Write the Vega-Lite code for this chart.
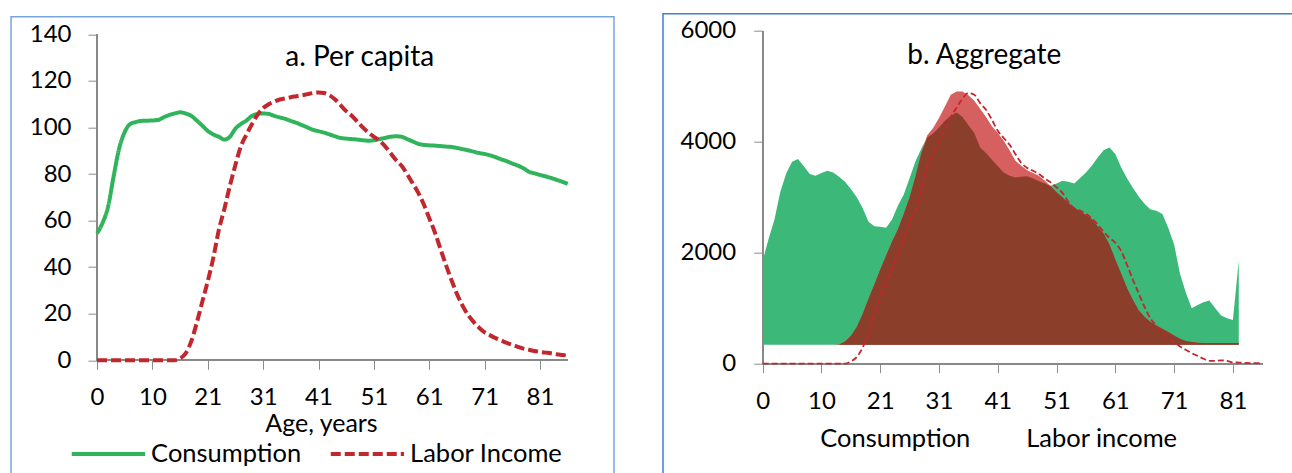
{
  "$schema": "https://vega.github.io/schema/vega-lite/v6.json",
  "padding": {"left": 10, "top": 12.7, "right": 0, "bottom": 0},
  "background": "white",
  "spacing": 49,
  "bounds": "flush",
  "center": true,
  "config": {
    "font": "Lato",
    "axis": {"labelFont": "Lato", "labelFontSize": 24, "labelColor": "#000000", "tickColor": "#8c8c8c", "tickSize": 9, "tickWidth": 1, "grid": false, "domain": false, "labelFlush": false, "labelOverlap": false, "titleFont": "Lato"},
    "legend": {"labelFont": "Lato", "labelColor": "#000000", "padding": 0},
    "title": {"font": "Lato", "fontSize": 28, "fontWeight": "normal", "color": "#000000"}
  },
  "resolve": {"scale": {"color": "independent", "x": "independent", "y": "independent", "strokeDash": "independent"}, "legend": {"color": "independent"}},
  "datasets": {
    "percapita": [
      {"i":0,"Consumption":54.5,"Labor Income":0},{"i":1,"Consumption":59,"Labor Income":0},{"i":2,"Consumption":66,"Labor Income":0},{"i":3,"Consumption":79,"Labor Income":0},{"i":4,"Consumption":91,"Labor Income":0},{"i":5,"Consumption":98,"Labor Income":0},{"i":6,"Consumption":101.5,"Labor Income":0},{"i":7,"Consumption":102.3,"Labor Income":0},{"i":8,"Consumption":102.8,"Labor Income":0},{"i":9,"Consumption":102.9,"Labor Income":0},
      {"i":10,"Consumption":103,"Labor Income":0},{"i":11,"Consumption":103.2,"Labor Income":0},{"i":12,"Consumption":104.3,"Labor Income":0},{"i":13,"Consumption":105.3,"Labor Income":0},{"i":14,"Consumption":106,"Labor Income":0},{"i":15,"Consumption":106.5,"Labor Income":0.8},{"i":16,"Consumption":106,"Labor Income":3},{"i":17,"Consumption":105,"Labor Income":8},{"i":18,"Consumption":103,"Labor Income":16},{"i":19,"Consumption":100.8,"Labor Income":25},
      {"i":20,"Consumption":98.5,"Labor Income":34},{"i":21,"Consumption":97,"Labor Income":44},{"i":22,"Consumption":96,"Labor Income":56},{"i":23,"Consumption":94.8,"Labor Income":65},{"i":24,"Consumption":96,"Labor Income":75},{"i":25,"Consumption":99.5,"Labor Income":84},{"i":26,"Consumption":101.5,"Labor Income":92},{"i":27,"Consumption":103,"Labor Income":97},{"i":28,"Consumption":105,"Labor Income":101.5},{"i":29,"Consumption":105.8,"Labor Income":105.5},
      {"i":30,"Consumption":106,"Labor Income":108.3},{"i":31,"Consumption":105.8,"Labor Income":110},{"i":32,"Consumption":105,"Labor Income":111.1},{"i":33,"Consumption":104.3,"Labor Income":112},{"i":34,"Consumption":103.7,"Labor Income":112.5},{"i":35,"Consumption":102.8,"Labor Income":113},{"i":36,"Consumption":102,"Labor Income":113.4},{"i":37,"Consumption":101,"Labor Income":113.8},{"i":38,"Consumption":100,"Labor Income":114.3},{"i":39,"Consumption":99,"Labor Income":114.8},
      {"i":40,"Consumption":98.4,"Labor Income":115},{"i":41,"Consumption":97.8,"Labor Income":114.8},{"i":42,"Consumption":97,"Labor Income":113.8},{"i":43,"Consumption":96.2,"Labor Income":112},{"i":44,"Consumption":95.5,"Labor Income":109.5},{"i":45,"Consumption":95.2,"Labor Income":107},{"i":46,"Consumption":95,"Labor Income":105},{"i":47,"Consumption":94.8,"Labor Income":102.5},{"i":48,"Consumption":94.5,"Labor Income":100},{"i":49,"Consumption":94.3,"Labor Income":97.8},
      {"i":50,"Consumption":94.5,"Labor Income":96},{"i":51,"Consumption":95,"Labor Income":94.3},{"i":52,"Consumption":95.5,"Labor Income":92},{"i":53,"Consumption":96,"Labor Income":89},{"i":54,"Consumption":96.2,"Labor Income":86},{"i":55,"Consumption":96,"Labor Income":83.5},{"i":56,"Consumption":95,"Labor Income":80},{"i":57,"Consumption":94,"Labor Income":76},{"i":58,"Consumption":93,"Labor Income":72},{"i":59,"Consumption":92.5,"Labor Income":67},
      {"i":60,"Consumption":92.3,"Labor Income":61},{"i":61,"Consumption":92.2,"Labor Income":55},{"i":62,"Consumption":92,"Labor Income":48},{"i":63,"Consumption":91.8,"Labor Income":41},{"i":64,"Consumption":91.6,"Labor Income":34.5},{"i":65,"Consumption":91.2,"Labor Income":28.5},{"i":66,"Consumption":90.7,"Labor Income":23.5},{"i":67,"Consumption":90.2,"Labor Income":19.5},{"i":68,"Consumption":89.6,"Labor Income":16.5},{"i":69,"Consumption":89,"Labor Income":14},
      {"i":70,"Consumption":88.6,"Labor Income":12},{"i":71,"Consumption":88,"Labor Income":10.7},{"i":72,"Consumption":87.2,"Labor Income":9.5},{"i":73,"Consumption":86.3,"Labor Income":8.5},{"i":74,"Consumption":85.5,"Labor Income":7.5},{"i":75,"Consumption":84.5,"Labor Income":6.6},{"i":76,"Consumption":83.6,"Labor Income":5.8},{"i":77,"Consumption":82.5,"Labor Income":5},{"i":78,"Consumption":81,"Labor Income":4.5},{"i":79,"Consumption":80.3,"Labor Income":4},
      {"i":80,"Consumption":79.6,"Labor Income":3.6},{"i":81,"Consumption":79,"Labor Income":3.3},{"i":82,"Consumption":78.3,"Labor Income":3},{"i":83,"Consumption":77.5,"Labor Income":2.6},{"i":84,"Consumption":76.7,"Labor Income":2.3},{"i":85,"Consumption":75.8,"Labor Income":2}
    ],
    "aggregate": [
      {"i":0,"c":1860,"ll":0},{"i":1,"c":2250,"ll":0},{"i":2,"c":2600,"ll":0},{"i":3,"c":3100,"ll":0},{"i":4,"c":3430,"ll":0},{"i":5,"c":3640,"ll":0},{"i":6,"c":3690,"ll":0},{"i":7,"c":3560,"ll":0},{"i":8,"c":3420,"ll":0},{"i":9,"c":3390,"ll":0},
      {"i":10,"c":3440,"ll":0},{"i":11,"c":3480,"ll":0},{"i":12,"c":3450,"la":340,"ov":340,"ll":0},{"i":13,"c":3370,"la":345,"ov":345,"ll":0},{"i":14,"c":3280,"la":400,"ov":400,"ll":0},{"i":15,"c":3150,"la":500,"ov":500,"ll":40},{"i":16,"c":3000,"la":660,"ov":660,"ll":120},{"i":17,"c":2810,"la":890,"ov":890,"ll":290},{"i":18,"c":2560,"la":1170,"ov":1170,"ll":560},{"i":19,"c":2480,"la":1430,"ov":1430,"ll":900},
      {"i":20,"c":2470,"la":1700,"ov":1700,"ll":1200},{"i":21,"c":2450,"la":1950,"ov":1950,"ll":1470},{"i":22,"c":2600,"la":2200,"ov":2200,"ll":1710},{"i":23,"c":2850,"la":2420,"ov":2420,"ll":1990},{"i":24,"c":3050,"la":2700,"ov":2700,"ll":2270},{"i":25,"c":3350,"la":3000,"ov":3000,"ll":2560},{"i":26,"c":3650,"la":3380,"ov":3380,"ll":2770},{"i":27,"c":3880,"la":3800,"ov":3800,"ll":3150},{"i":28,"c":4080,"la":4120,"ov":4080,"ll":3550},{"i":29,"c":4150,"la":4250,"ov":4150,"ll":3800},
      {"i":30,"c":4260,"la":4430,"ov":4260,"ll":4010},{"i":31,"c":4380,"la":4640,"ov":4380,"ll":4230},{"i":32,"c":4470,"la":4850,"ov":4470,"ll":4450},{"i":33,"c":4530,"la":4910,"ov":4530,"ll":4620},{"i":34,"c":4450,"la":4910,"ov":4450,"ll":4780},{"i":35,"c":4300,"la":4840,"ov":4300,"ll":4880},{"i":36,"c":4160,"la":4740,"ov":4160,"ll":4850},{"i":37,"c":3900,"la":4600,"ov":3900,"ll":4700},{"i":38,"c":3800,"la":4450,"ov":3800,"ll":4580},{"i":39,"c":3680,"la":4280,"ov":3680,"ll":4400},
      {"i":40,"c":3560,"la":4160,"ov":3560,"ll":4200},{"i":41,"c":3450,"la":4020,"ov":3450,"ll":4070},{"i":42,"c":3390,"la":3850,"ov":3390,"ll":3950},{"i":43,"c":3360,"la":3660,"ov":3360,"ll":3780},{"i":44,"c":3370,"la":3570,"ov":3370,"ll":3620},{"i":45,"c":3380,"la":3490,"ov":3380,"ll":3530},{"i":46,"c":3340,"la":3440,"ov":3340,"ll":3480},{"i":47,"c":3290,"la":3390,"ov":3290,"ll":3420},{"i":48,"c":3250,"la":3300,"ov":3250,"ll":3340},{"i":49,"c":3210,"la":3200,"ov":3200,"ll":3270},
      {"i":50,"c":3250,"la":3090,"ov":3090,"ll":3180},{"i":51,"c":3300,"la":3000,"ov":3000,"ll":3080},{"i":52,"c":3280,"la":2900,"ov":2900,"ll":2920},{"i":53,"c":3250,"la":2820,"ov":2820,"ll":2800},{"i":54,"c":3350,"la":2740,"ov":2740,"ll":2760},{"i":55,"c":3450,"la":2680,"ov":2680,"ll":2700},{"i":56,"c":3570,"la":2610,"ov":2610,"ll":2620},{"i":57,"c":3720,"la":2480,"ov":2480,"ll":2510},{"i":58,"c":3850,"la":2350,"ov":2350,"ll":2380},{"i":59,"c":3900,"la":2150,"ov":2150,"ll":2270},
      {"i":60,"c":3780,"la":1880,"ov":1880,"ll":2180},{"i":61,"c":3540,"la":1620,"ov":1620,"ll":2030},{"i":62,"c":3340,"la":1360,"ov":1360,"ll":1780},{"i":63,"c":3170,"la":1150,"ov":1150,"ll":1510},{"i":64,"c":3010,"la":960,"ov":960,"ll":1260},{"i":65,"c":2880,"la":840,"ov":840,"ll":1020},{"i":66,"c":2780,"la":750,"ov":750,"ll":810},{"i":67,"c":2760,"la":690,"ov":690,"ll":680},{"i":68,"c":2700,"la":630,"ov":630,"ll":560},{"i":69,"c":2450,"la":570,"ov":570,"ll":470},
      {"i":70,"c":2150,"la":510,"ov":510,"ll":390},{"i":71,"c":1620,"la":450,"ov":450,"ll":310},{"i":72,"c":1280,"la":410,"ov":410,"ll":250},{"i":73,"c":1000,"la":390,"ov":390,"ll":190},{"i":74,"c":1060,"la":380,"ov":380,"ll":140},{"i":75,"c":1110,"la":375,"ov":375,"ll":90},{"i":76,"c":1140,"la":375,"ov":375,"ll":50},{"i":77,"c":1000,"la":375,"ov":375,"ll":50},{"i":78,"c":870,"la":375,"ov":375,"ll":60},{"i":79,"c":820,"la":375,"ov":375,"ll":50},
      {"i":80,"c":790,"la":375,"ov":375,"ll":25},{"i":81,"c":1850,"la":375,"ov":375,"ll":20},{"i":82,"ll":15},{"i":83,"ll":12},{"i":84,"ll":10},{"i":85,"ll":8}
    ]
  },
  "hconcat": [
    {
      "width": 603,
      "height": 467,
      "view": {"stroke": "#7BA3DB", "strokeWidth": 1.5},
      "title": {"text": "a. Per capita", "offset": -77.3, "dx": 47.2, "baseline": "alphabetic", "anchor": "middle", "frame": "group"},
      "data": {"name": "percapita"},
      "layer": [
        {
          "mark": {"type": "rule", "color": "#898989", "strokeWidth": 1},
          "encoding": {
            "x": {"datum": 0, "type": "quantitative"},
            "x2": {"datum": 85},
            "y": {"datum": 0, "type": "quantitative"}
          }
        },
        {
          "mark": {"type": "rule", "color": "#898989", "strokeWidth": 1},
          "encoding": {
            "x": {"datum": 0, "type": "quantitative"},
            "y": {"datum": 0, "type": "quantitative"},
            "y2": {"datum": 140}
          }
        },
        {
          "transform": [{"fold": ["Consumption", "Labor Income"], "as": ["series", "value"]}],
          "mark": {"type": "line", "strokeWidth": 4, "interpolate": "monotone"},
          "encoding": {
            "x": {
              "field": "i", "type": "quantitative",
              "scale": {"domain": [-15.53, 93.359], "nice": false, "zero": false},
              "axis": {
                "orient": "bottom", "offset": -123.4,
                "values": [0,5,10,15,20,25,30,35,40,45,50,55,60,65,70,75,80,85],
                "labelExpr": "datum.value % 10 == 0 ? (datum.value <= 10 ? datum.label : '' + (datum.value + 1)) : ''",
                "labelPadding": 16,
                "title": "Age, years", "titleX": 310, "titleY": 71.7, "titleAlign": "center", "titleBaseline": "alphabetic",
                "titleFontSize": 25, "titleFontWeight": "normal", "titleColor": "#000000"
              }
            },
            "y": {
              "field": "value", "type": "quantitative",
              "scale": {"domain": [-52.99, 147.56], "nice": false, "zero": false},
              "axis": {"orient": "left", "offset": -86, "values": [0,20,40,60,80,100,120,140], "labelPadding": 17, "title": null}
            },
            "color": {
              "field": "series", "type": "nominal",
              "scale": {"domain": ["Consumption", "Labor Income"], "range": ["#2FB45B", "#C1272D"]},
              "legend": {"orient": "none", "legendX": 58.4, "legendY": 398, "direction": "horizontal", "title": null, "symbolType": "stroke", "symbolSize": 5373, "symbolStrokeWidth": 4, "labelFontSize": 25.5, "labelOffset": 3.7, "columnPadding": 21}
            },
            "strokeDash": {
              "field": "series", "type": "nominal",
              "scale": {"domain": ["Consumption", "Labor Income"], "range": [[1, 0], [10, 4]]},
              "legend": {"orient": "none", "legendX": 58.4, "legendY": 398, "direction": "horizontal", "title": null, "symbolType": "stroke", "symbolSize": 5373, "symbolStrokeWidth": 4, "labelFontSize": 25.5, "labelOffset": 3.7, "columnPadding": 21}
            }
          }
        }
      ]
    },
    {
      "width": 640,
      "height": 473,
      "view": {"stroke": "#3F7ECF", "strokeWidth": 1.5},
      "title": {"text": "b. Aggregate", "offset": -78.8, "dx": 1.3, "baseline": "alphabetic", "anchor": "middle", "frame": "group"},
      "data": {"name": "aggregate"},
      "layer": [
        {
          "transform": [{"filter": "isValid(datum.c)"}],
          "mark": {"type": "area", "opacity": 1},
          "encoding": {
            "x": {
              "field": "i", "type": "quantitative",
              "scale": {"domain": [-16.963, 91.926], "nice": false, "zero": false},
              "axis": {
                "orient": "bottom", "offset": -123,
                "values": [0,5,10,15,20,25,30,35,40,45,50,55,60,65,70,75,80,85],
                "labelExpr": "datum.value % 10 == 0 ? (datum.value <= 10 ? datum.label : '' + (datum.value + 1)) : ''",
                "labelPadding": 17, "title": null
              }
            },
            "y": {
              "field": "c", "type": "quantitative",
              "scale": {"domain": [-2218, 6312], "nice": false, "zero": false},
              "axis": {"orient": "left", "offset": -99.7, "values": [0, 2000, 4000, 6000], "format": "d", "labelPadding": 18, "title": null}
            },
            "y2": {"datum": 340},
            "color": {
              "datum": "Consumption",
              "scale": {"domain": ["Consumption", "Labor income"], "range": ["#3CB878", "#D65F5F"]},
              "legend": {"orient": "none", "legendX": 131.7, "legendY": 412, "direction": "horizontal", "title": null, "symbolOpacity": 0, "symbolSize": 0, "symbolStrokeWidth": 0, "labelOffset": 0, "columnPadding": 30, "labelFontSize": 25.5}
            }
          }
        },
        {
          "transform": [{"filter": "isValid(datum.la)"}],
          "mark": {"type": "area", "opacity": 1},
          "encoding": {
            "x": {"field": "i", "type": "quantitative"},
            "y": {"field": "la", "type": "quantitative"},
            "y2": {"datum": 340},
            "color": {"datum": "Labor income"}
          }
        },
        {
          "transform": [{"filter": "isValid(datum.ov)"}],
          "mark": {"type": "area", "opacity": 1, "color": "#8B3E2A"},
          "encoding": {
            "x": {"field": "i", "type": "quantitative"},
            "y": {"field": "ov", "type": "quantitative"},
            "y2": {"datum": 340}
          }
        },
        {
          "mark": {"type": "rule", "color": "#898989", "strokeWidth": 1},
          "encoding": {
            "x": {"datum": 0, "type": "quantitative"},
            "x2": {"datum": 85},
            "y": {"datum": 0, "type": "quantitative"}
          }
        },
        {
          "mark": {"type": "rule", "color": "#898989", "strokeWidth": 1},
          "encoding": {
            "x": {"datum": 0, "type": "quantitative"},
            "y": {"datum": 0, "type": "quantitative"},
            "y2": {"datum": 6000}
          }
        },
        {
          "mark": {"type": "line", "color": "#C3262E", "strokeWidth": 1.8, "strokeDash": [6, 3], "interpolate": "monotone"},
          "encoding": {
            "x": {"field": "i", "type": "quantitative"},
            "y": {"field": "ll", "type": "quantitative"}
          }
        }
      ]
    }
  ]
}
